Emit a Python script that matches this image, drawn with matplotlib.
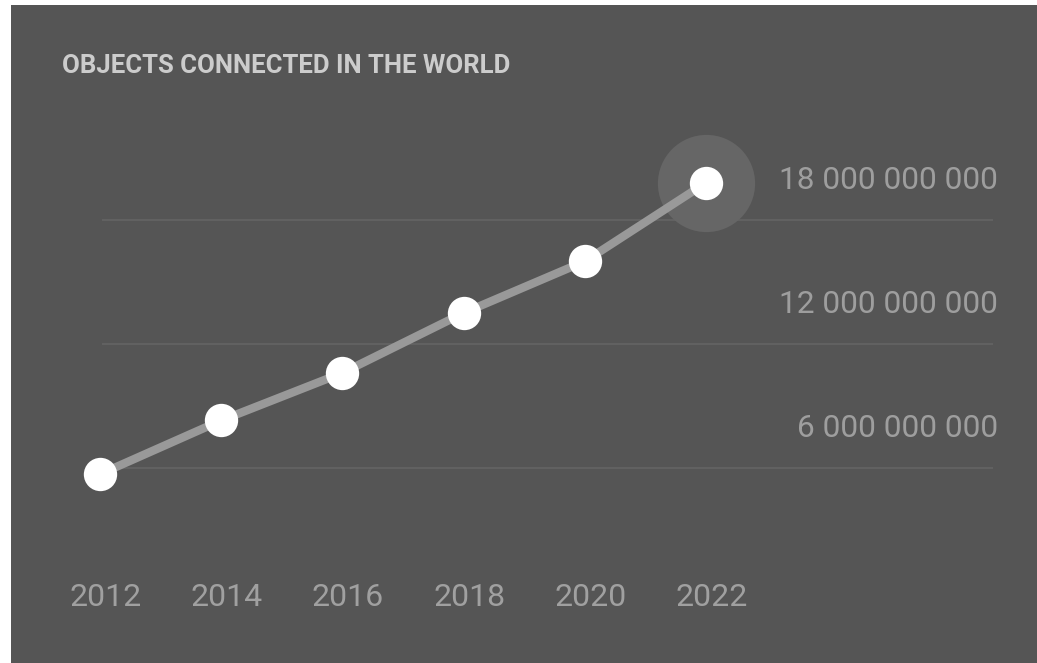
import matplotlib.pyplot as plt
from matplotlib.patches import Rectangle

# Data (billions of connected objects)
years = [2012, 2014, 2016, 2018, 2020, 2022]
objects_bn = [5.7, 8.3, 10.6, 13.5, 16.0, 19.8]
grid_values = [6, 12, 18]
grid_labels = ['6 000 000 000', '12 000 000 000', '18 000 000 000']
title = 'OBJECTS CONNECTED IN THE WORLD'

bg = '#555555'
W, H = 1037, 663

fig = plt.figure(figsize=(W / 100, H / 100), dpi=100)
fig.patch.set_facecolor('white')
fig.patches.append(Rectangle((11 / W, 0), 1 - 11 / W, 1 - 5 / H,
                             transform=fig.transFigure, facecolor=bg,
                             edgecolor='none', zorder=-5))

ax = fig.add_axes([0, 0, 1, 1])
ax.set_facecolor('none')
ax.set_xlim(2010.35, 2027.46)
ax.set_ylim(-3.435, 28.64)
ax.axis('off')

# horizontal guides
for v in grid_values:
    ax.axhline(v, xmin=103 / W, xmax=992 / W, color='#616161', lw=1.5, zorder=1)

for v, lab in zip(grid_values, grid_labels):
    ax.annotate(lab, xy=(998 / W, v), xycoords=('axes fraction', 'data'),
                xytext=(0, 28.5), textcoords='offset points',
                ha='right', va='center', fontsize=22.8, color='#9e9e9e',
                family='Roboto')

# halo on latest point
ax.plot(years[-1], objects_bn[-1], 'o', ms=70, color='#666666',
        markeredgewidth=0, zorder=2)

ax.plot(years, objects_bn, color='#999999', lw=6, solid_capstyle='round', zorder=3)
ax.plot(years, objects_bn, 'o', ms=24, color='white', markeredgewidth=0, zorder=4)

for yr in years:
    ax.annotate(str(yr), xy=(yr, 1 - 598 / H), xycoords=('data', 'axes fraction'),
                xytext=(4, 0), textcoords='offset points',
                ha='center', va='center', fontsize=23, color='#a0a0a0',
                family='Roboto')

fig.text(62 / W, 1 - 66 / H, title, ha='left', va='center', fontsize=18.5,
         color='#cccccc', family='Roboto', fontweight='bold')

fig.savefig('out.png', dpi=100)
